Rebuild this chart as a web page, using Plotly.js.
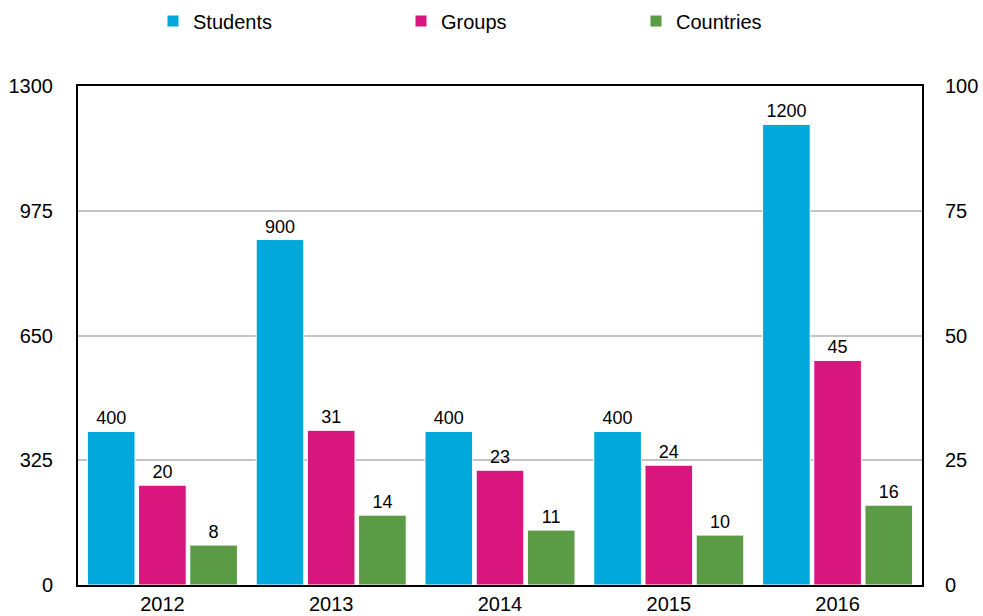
<!DOCTYPE html>
<html><head><meta charset="utf-8">
<script src="https://cdn.plot.ly/plotly-3.0.1.min.js"></script>
<style>body{margin:0;}#chart{width:983px;height:616px;}</style>
</head><body><div id="chart"></div>
<script>
var years = ['2012','2013','2014','2015','2016'];
var students = [400, 900, 400, 400, 1200];
var groups = [20, 31, 23, 24, 45];
var countries = [8, 14, 11, 10, 16];
var leftTicks = [0, 325, 650, 975, 1300];
var rightTicks = [0, 25, 50, 75, 100];

var font = 'Liberation Sans, Arial, sans-serif';
function tr(name, vals, color, yaxis, og, lg){
  return {type:'bar', name:name, x:years, y:vals, yaxis:yaxis, offsetgroup:og, legend:lg,
    marker:{color:color, line:{color:'#ffffff', width:1}},
    text:vals.map(String), textposition:'outside', cliponaxis:false,
    textfont:{family:font, size:18, color:'#000'}};
}
var data = [
  tr('Students', students, '#00a8dc', 'y', '1', 'legend'),
  tr('Groups', groups, '#d9157e', 'y2', '2', 'legend2'),
  tr('Countries', countries, '#5b9b45', 'y2', '3', 'legend3')
];
function lg(xpx){
  return {orientation:'h', xref:'container', yref:'container', x:xpx/983, xanchor:'left',
    y:1-21/616, yanchor:'middle', font:{family:font, size:20, color:'#000'},
    bgcolor:'rgba(0,0,0,0)', borderwidth:0};
}
var layout = {
  width:983, height:616,
  margin:{l:78, r:61, t:86, b:31, autoexpand:false},
  paper_bgcolor:'#fff', plot_bgcolor:'#fff',
  font:{family:font, size:20, color:'#000'},
  barmode:'group', bargap:0.09, bargroupgap:0.07,
  showlegend:true,
  legend:lg(153), legend2:lg(401), legend3:lg(636),
  xaxis:{showline:true, linecolor:'#000', linewidth:2, mirror:true, ticks:'',
    tickfont:{size:20}, showgrid:false},
  yaxis:{range:[0,1300], tickvals:leftTicks, ticktext:leftTicks.map(String),
    showgrid:true, gridcolor:'#c4c4c4', gridwidth:2, zeroline:false,
    showline:true, linecolor:'#000', linewidth:2, ticks:'', ticklabelstandoff:19,
    tickfont:{size:20}},
  yaxis2:{range:[0,100], tickvals:rightTicks, ticktext:rightTicks.map(String),
    overlaying:'y', side:'right', showgrid:false, zeroline:false,
    showline:true, linecolor:'#000', linewidth:2, ticks:'', ticklabelstandoff:17,
    tickfont:{size:20}}
};
Plotly.newPlot('chart', data, layout, {displayModeBar:false});
</script></body></html>
